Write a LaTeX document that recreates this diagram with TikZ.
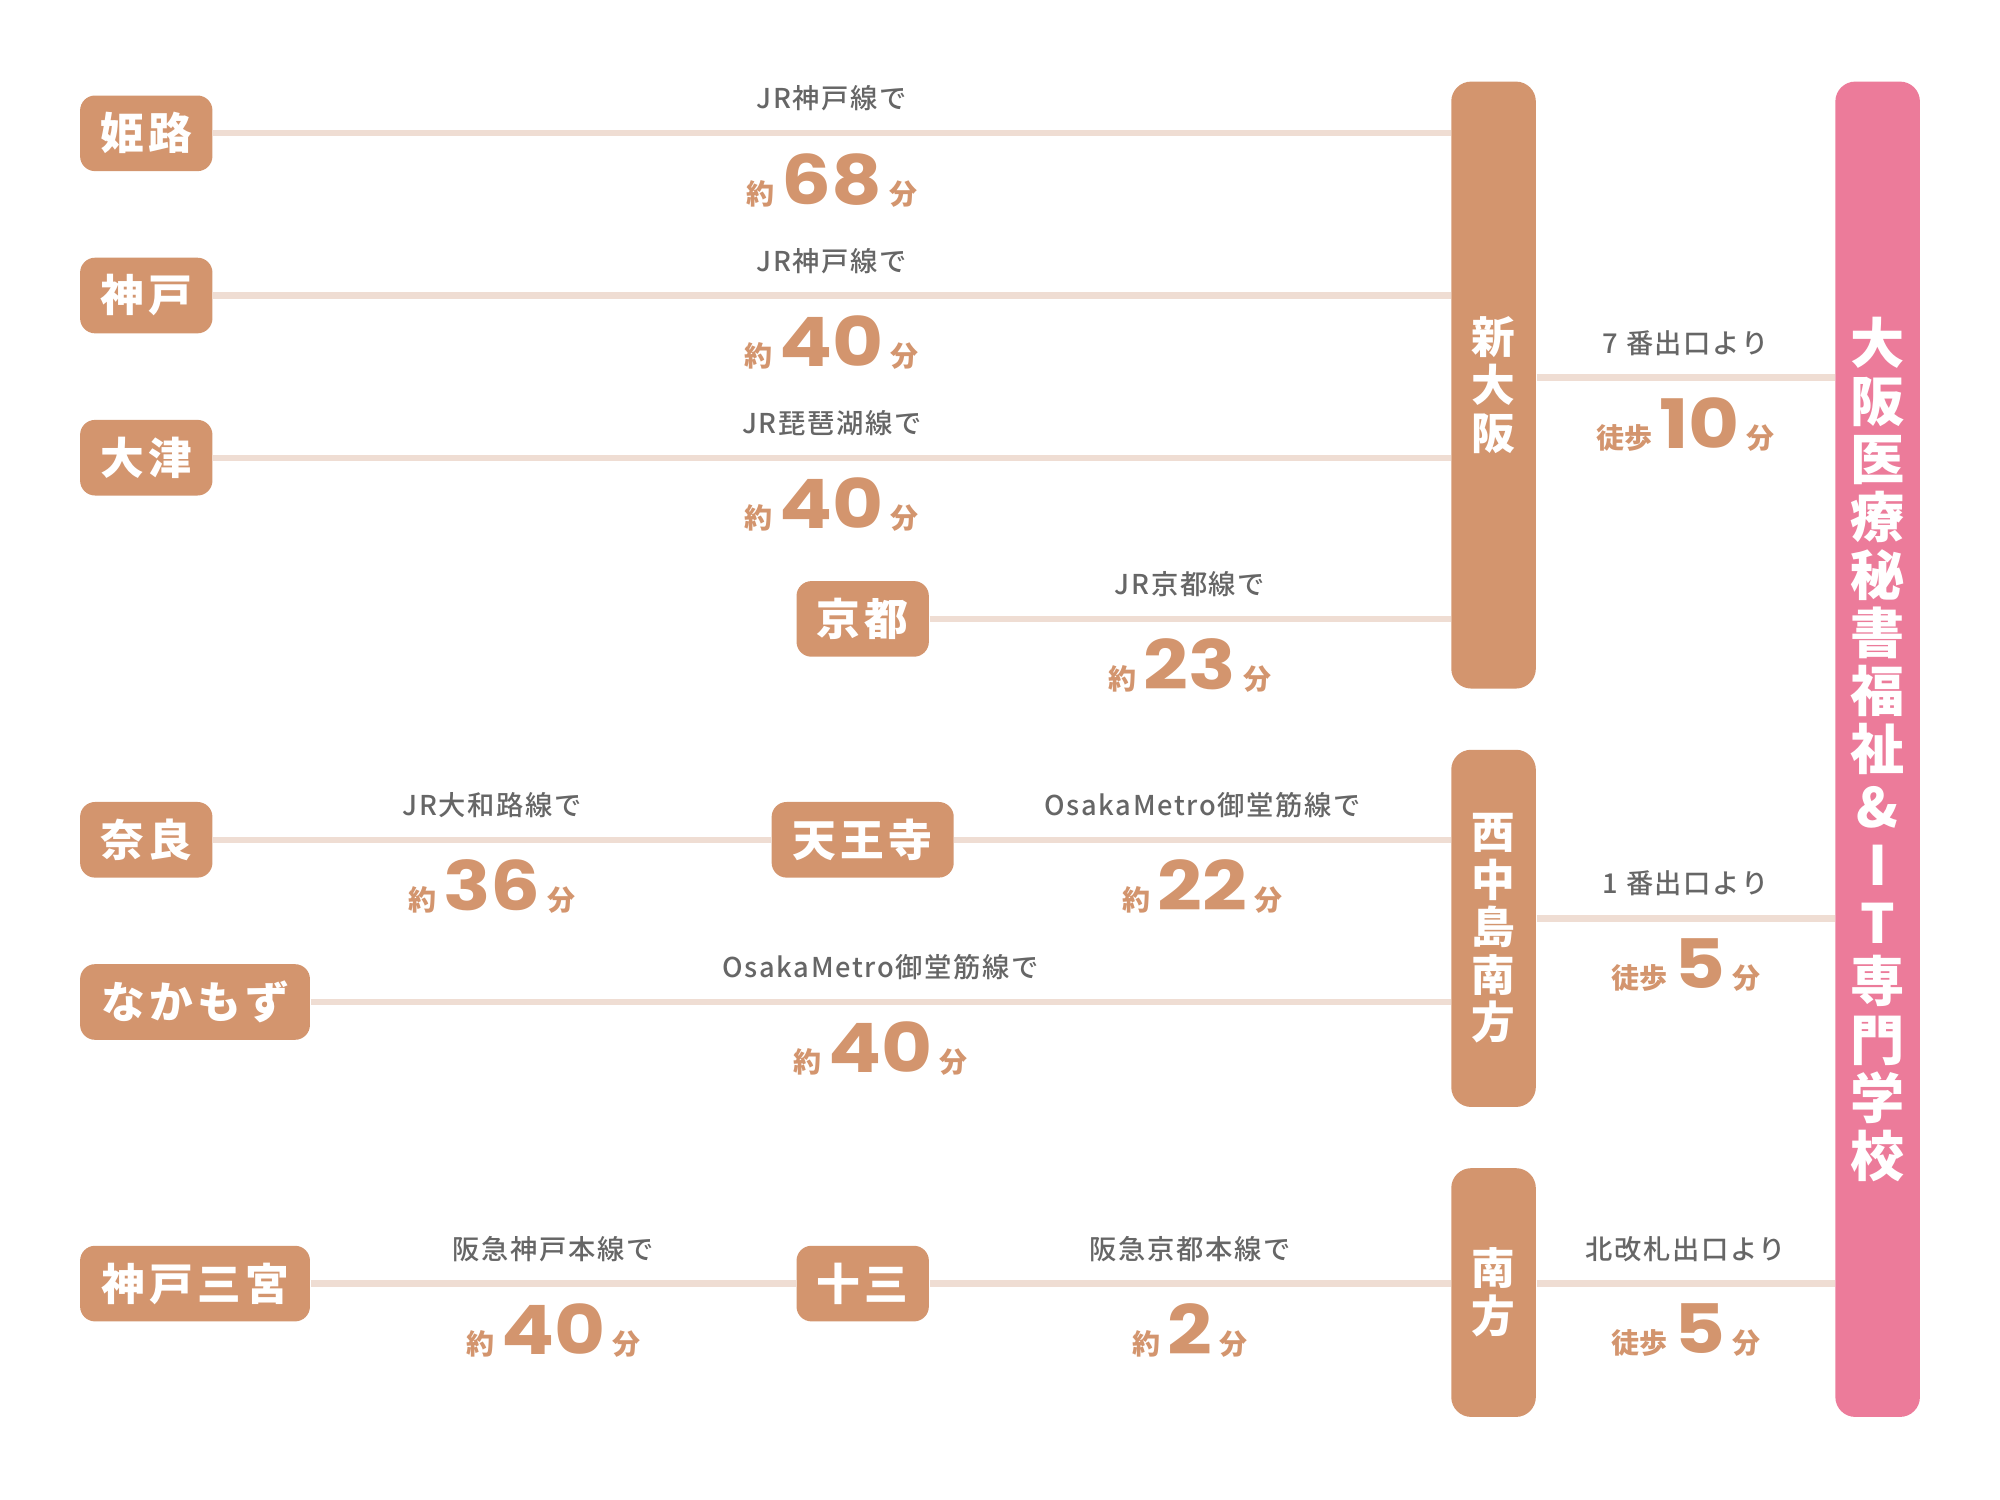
\documentclass[tikz,border=0pt]{standalone}
\usepackage{fontspec}
\usepackage{xcolor}
\usetikzlibrary{positioning}

\newfontfamily\jp{Noto Sans CJK JP}[LetterSpace=10]
\newfontfamily\jpplain{Noto Sans CJK JP}
\IfFontExistsTF{Noto Sans CJK JP Medium}
  {\newfontfamily\jplabel{Noto Sans CJK JP Medium}[LetterSpace=6]}
  {\newfontfamily\jplabel{Noto Sans CJK JP}[LetterSpace=6]}
\newfontfamily\numfont{Poppins}[FakeStretch=1.15]

\definecolor{stationorange}{HTML}{D3956E}
\definecolor{schoolpink}{HTML}{EC7B9A}
\definecolor{linebeige}{HTML}{EFDDD3}
\definecolor{labelgray}{HTML}{666666}

\newcommand{\ridetime}[2]{{\jpplain\bfseries\fontsize{8}{8}\selectfont #1}\kern2pt{\numfont\bfseries\fontsize{19.5}{20}\selectfont #2}\kern2pt{\jpplain\bfseries\fontsize{8}{8}\selectfont 分}}

\begin{document}
\begin{tikzpicture}[
  station/.style={rectangle, fill=stationorange, text=white, rounded corners=0.15cm, minimum width=1.33cm, minimum height=0.76cm, inner sep=0pt, font=\jp\bfseries\fontsize{12.5}{13.5}\selectfont},
  stopbar/.style={rectangle, fill=stationorange, text=white, rounded corners=0.2cm, minimum width=0.85cm, inner sep=0pt, align=center, font=\jp\bfseries\fontsize{12.5}{13.6}\selectfont},
  conn/.style={linebeige, line width=1.8pt},
  lbl/.style={midway, yshift=0.35cm, text=labelgray, font=\jplabel\fontsize{7.8}{8}\selectfont},
  tm/.style={midway, yshift=-0.47cm, text=stationorange}
]
\useasboundingbox (0,0) rectangle (20.1,-15.075);

% stations on the left
\node[station] (himeji) at (1.47,-1.34) {姫路};
\node[station] (kobe) at (1.47,-2.97) {神戸};
\node[station] (otsu) at (1.47,-4.60) {大津};
\node[station] (kyoto) at (8.67,-6.22) {京都};
\node[station] (nara) at (1.47,-8.44) {奈良};
\node[station, minimum width=1.83cm] (tennoji) at (8.67,-8.44) {天王寺};
\node[station, minimum width=2.31cm] (nakamozu) at (1.96,-10.07) {なかもず};
\node[station, minimum width=2.31cm] (sannomiya) at (1.96,-12.90) {神戸三宮};
\node[station] (juso) at (8.67,-12.90) {十三};

% transfer stations
\node[stopbar, minimum height=6.10cm] (shin) at (15.01,-3.87) {新\\大\\阪};
\node[stopbar, minimum height=3.59cm] (nishi) at (15.01,-9.33) {西\\中\\島\\南\\方};
\node[stopbar, minimum height=2.50cm] (minami) at (15.01,-12.99) {南\\方};

% school
\node[stopbar, fill=schoolpink, minimum height=13.42cm, font=\jp\bfseries\fontsize{15.5}{16.6}\selectfont] (school) at (18.87,-7.53)
  {大\\阪\\医\\療\\秘\\書\\福\\祉\\{\jpplain\bfseries \&}\\{\jpplain I}\\{\jpplain T}\\専\\門\\学\\校};

% lines
\draw[conn] (himeji) -- (himeji -| shin.west) node[lbl] {JR神戸線で} node[tm] {\ridetime{約}{68}};
\draw[conn] (kobe) -- (kobe -| shin.west) node[lbl] {JR神戸線で} node[tm] {\ridetime{約}{40}};
\draw[conn] (otsu) -- (otsu -| shin.west) node[lbl] {JR琵琶湖線で} node[tm] {\ridetime{約}{40}};
\draw[conn] (kyoto) -- (kyoto -| shin.west) node[lbl] {JR京都線で} node[tm] {\ridetime{約}{23}};
\draw[conn] ([yshift=0.075cm]shin.east) -- ([yshift=0.075cm]shin.east -| school.west) node[lbl] {7 番出口より} node[tm] {\ridetime{徒歩}{10}};

\draw[conn] (nara) -- (tennoji) node[lbl] {JR大和路線で} node[tm] {\ridetime{約}{36}};
\draw[conn] (tennoji) -- (tennoji -| nishi.west) node[lbl] {OsakaMetro御堂筋線で} node[tm] {\ridetime{約}{22}};
\draw[conn] (nakamozu) -- (nakamozu -| nishi.west) node[lbl] {OsakaMetro御堂筋線で} node[tm] {\ridetime{約}{40}};
\draw[conn] ([yshift=0.1cm]nishi.east) -- ([yshift=0.1cm]nishi.east -| school.west) node[lbl] {1 番出口より} node[tm] {\ridetime{徒歩}{5}};

\draw[conn] (sannomiya) -- (juso) node[lbl] {阪急神戸本線で} node[tm] {\ridetime{約}{40}};
\draw[conn] (juso) -- (juso -| minami.west) node[lbl] {阪急京都本線で} node[tm] {\ridetime{約}{2}};
\draw[conn] (minami.east |- juso) -- (school.west |- juso) node[lbl] {北改札出口より} node[tm] {\ridetime{徒歩}{5}};
\end{tikzpicture}
\end{document}
